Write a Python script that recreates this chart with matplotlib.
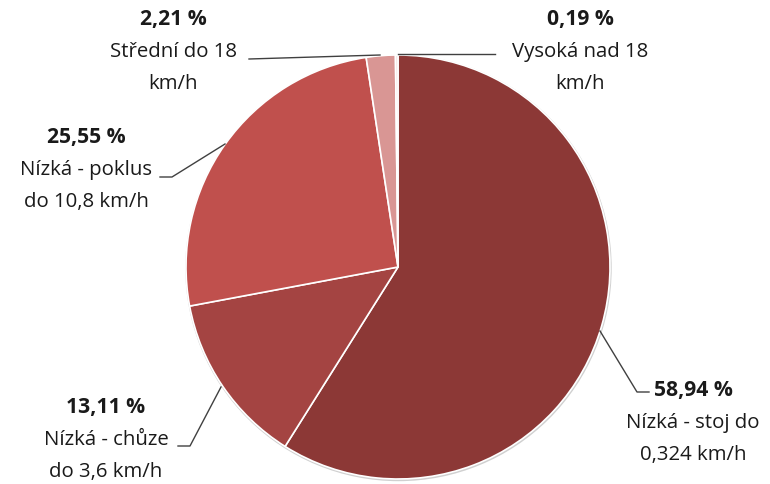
import matplotlib
matplotlib.use("Agg")
import matplotlib.pyplot as plt
from matplotlib.patches import Circle

values = [58.94, 13.11, 25.55, 2.21, 0.19]
pct_labels = ["58,94 %", "13,11 %", "25,55 %", "2,21 %", "0,19 %"]
names = [["Nízká - stoj do", "0,324 km/h"], ["Nízká - chůze", "do 3,6 km/h"],
         ["Nízká - poklus", "do 10,8 km/h"], ["Střední do 18", "km/h"],
         ["Vysoká nad 18", "km/h"]]
colors = ["#8C3836", "#A44442", "#C0504D", "#D99694", "#F4E0DF"]

W, H = 770, 485
fig = plt.figure(figsize=(W / 100, H / 100), dpi=100)
ax = fig.add_axes([0, 0, 1, 1])

cx, cy, r = 398, H - 268, 212
ax.add_patch(Circle((cx + 0.5, cy - 1), r + 1.2, facecolor="#d0d0d0",
                    edgecolor="none", zorder=0))
ax.pie(values, colors=colors, startangle=90, counterclock=False,
       center=(cx, cy), radius=r, frame=True,
       wedgeprops=dict(edgecolor="white", linewidth=1.2))
ax.set_xlim(0, W)
ax.set_ylim(0, H)
ax.set_aspect("equal")
ax.axis("off")

FONT = "Open Sans"
FS = 14.7

# label positions in image pixels (x center, y of percent line)
lab_pos = [(693, 391), (106, 408), (86, 138), (173, 20), (580, 20)]
leaders = [
    [(600, 332), (637, 393), (649, 393)],
    [(221, 388), (190, 447), (178, 447)],
    [(225, 145), (172, 178), (160, 178)],
    [(380, 56), (249, 60)],
    [(398, 55), (495, 55)],
]

for (x, y), p, n, ld in zip(lab_pos, pct_labels, names, leaders):
    ax.text(x, H - y, p, ha="center", va="center", fontsize=FS + 0.5,
            fontweight="bold", family=FONT, color="#1a1a1a")
    for i, line in enumerate(n):
        ax.text(x, H - (y + 32 * (i + 1)), line, ha="center", va="center",
                fontsize=FS, family=FONT, color="#1a1a1a")
    xs = [q[0] for q in ld]
    ys = [H - q[1] for q in ld]
    ax.plot(xs, ys, color="#404040", linewidth=1.0)

fig.savefig("out.png", dpi=100)
